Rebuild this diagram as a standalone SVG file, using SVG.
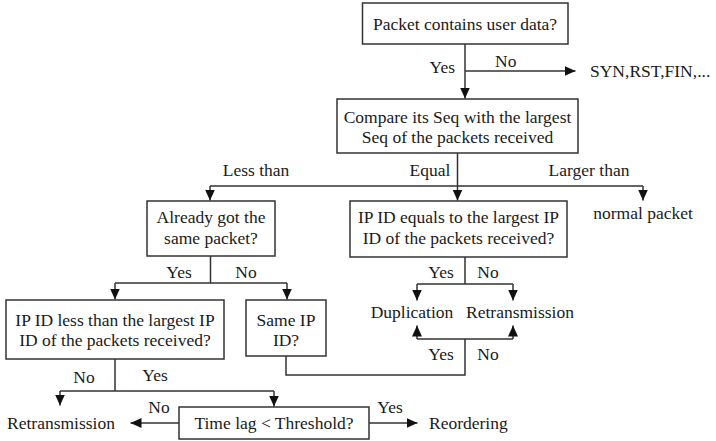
<svg xmlns="http://www.w3.org/2000/svg" width="716" height="441" viewBox="0 0 716 441">
  <style>
    .box { fill: #ffffff; stroke: #333333; stroke-width: 1.5; }
    .ln { fill: none; stroke: #333333; stroke-width: 1.5; }
    .arr { marker-end: url(#tip); }
    .c { text-anchor: middle; }
    .e { text-anchor: end; }
  </style>
  <defs>
    <marker id="tip" markerUnits="userSpaceOnUse" markerWidth="12" markerHeight="12" refX="11" refY="6" orient="auto">
      <path d="M0,1 L11,6 L0,11 z" fill="#111111"/>
    </marker>
  </defs>
  <rect width="716" height="441" fill="#ffffff"/>

  <g id="connectors">
    <path class="ln arr" d="M465,44 V98.5"/>
    <path class="ln arr" d="M465,71 H575.5"/>
    <path class="ln" d="M457.5,153 V186 M210,186 H643"/>
    <path class="ln arr" d="M210,186 V200.5"/>
    <path class="ln arr" d="M457.5,186 V200.5"/>
    <path class="ln arr" d="M643,186 V200.5"/>
    <path class="ln" d="M210.5,256 V283 H115 M210.5,283 H287"/>
    <path class="ln arr" d="M115,283 V299.5"/>
    <path class="ln arr" d="M287,283 V299.5"/>
    <path class="ln" d="M465,257 V284 H417 M465,284 H513"/>
    <path class="ln arr" d="M417,284 V300.5"/>
    <path class="ln arr" d="M513,284 V300.5"/>
    <path class="ln" d="M286,356 V375 H465 V339 H417 M465,339 H513"/>
    <path class="ln arr" d="M417,339 V325.5"/>
    <path class="ln arr" d="M513,339 V325.5"/>
    <path class="ln" d="M115,359 V391 H60 M115,391 H274"/>
    <path class="ln arr" d="M60,391 V405.5"/>
    <path class="ln arr" d="M274,391 V406.5"/>
    <path class="ln arr" d="M179,423 H130.5"/>
    <path class="ln arr" d="M369,423 H417.5"/>
  </g>

  <g id="labels" font-family="Liberation Serif" font-size="17.5" fill="#1a1a1a">
    <text class="e" x="455" y="73" font-family="Liberation Serif">Yes</text>
    <text x="495" y="67" font-family="Liberation Serif">No</text>
    <text class="c" x="256" y="176" font-family="Liberation Serif">Less than</text>
    <text class="c" x="430" y="176" font-family="Liberation Serif">Equal</text>
    <text class="c" x="589" y="176" font-family="Liberation Serif">Larger than</text>
    <text class="c" x="179" y="278" font-family="Liberation Serif">Yes</text>
    <text class="c" x="246" y="278" font-family="Liberation Serif">No</text>
    <text class="c" x="441" y="278" font-family="Liberation Serif">Yes</text>
    <text class="c" x="488" y="278" font-family="Liberation Serif">No</text>
    <text class="c" x="441" y="360" font-family="Liberation Serif">Yes</text>
    <text class="c" x="488" y="360" font-family="Liberation Serif">No</text>
    <text class="c" x="84" y="383" font-family="Liberation Serif">No</text>
    <text class="c" x="155" y="381" font-family="Liberation Serif">Yes</text>
    <text class="c" x="159" y="413" font-family="Liberation Serif">No</text>
    <text class="c" x="390" y="413" font-family="Liberation Serif">Yes</text>
  </g>

  <g font-family="Liberation Serif" font-size="17.5" fill="#1a1a1a">
    <g id="node-user-data">
      <rect class="box" x="362.5" y="3" width="205.5" height="41"/>
      <text class="c" x="465" y="30" font-family="Liberation Serif">Packet contains user data?</text>
    </g>
    <g id="node-syn">
      <text x="590" y="77" font-family="Liberation Serif">SYN,RST,FIN,...</text>
    </g>
    <g id="node-compare-seq">
      <rect class="box" x="337" y="99" width="241" height="54"/>
      <text class="c" x="457.5" y="123" font-family="Liberation Serif">Compare its Seq with the largest</text>
      <text class="c" x="457.5" y="143" font-family="Liberation Serif">Seq of the packets received</text>
    </g>
    <g id="node-normal">
      <text class="c" x="643" y="219" font-family="Liberation Serif">normal packet</text>
    </g>
    <g id="node-already-got">
      <rect class="box" x="147" y="201" width="128" height="55"/>
      <text class="c" x="211" y="223" font-family="Liberation Serif">Already got the</text>
      <text class="c" x="211" y="244" font-family="Liberation Serif">same packet?</text>
    </g>
    <g id="node-ipid-equals">
      <rect class="box" x="350" y="201" width="217" height="56"/>
      <text class="c" x="458.5" y="223" font-family="Liberation Serif">IP ID equals to the largest IP</text>
      <text class="c" x="458.5" y="244" font-family="Liberation Serif">ID of the packets received?</text>
    </g>
    <g id="node-duplication">
      <text class="c" x="412" y="318" font-family="Liberation Serif">Duplication</text>
    </g>
    <g id="node-retrans-right">
      <text class="c" x="520" y="318" font-family="Liberation Serif">Retransmission</text>
    </g>
    <g id="node-ipid-less">
      <rect class="box" x="6" y="300" width="218" height="59"/>
      <text class="c" x="115" y="326" font-family="Liberation Serif">IP ID less than the largest IP</text>
      <text class="c" x="115" y="346" font-family="Liberation Serif">ID of the packets received?</text>
    </g>
    <g id="node-same-ipid">
      <rect class="box" x="246" y="300" width="80" height="56"/>
      <text class="c" x="286" y="326" font-family="Liberation Serif">Same IP</text>
      <text class="c" x="286" y="346" font-family="Liberation Serif">ID?</text>
    </g>
    <g id="node-time-lag">
      <rect class="box" x="179" y="407" width="190" height="32"/>
      <text class="c" x="274" y="429" font-family="Liberation Serif">Time lag &lt; Threshold?</text>
    </g>
    <g id="node-retrans-left">
      <text x="7" y="429" font-family="Liberation Serif">Retransmission</text>
    </g>
    <g id="node-reordering">
      <text x="429" y="429" font-family="Liberation Serif">Reordering</text>
    </g>
  </g>
</svg>
